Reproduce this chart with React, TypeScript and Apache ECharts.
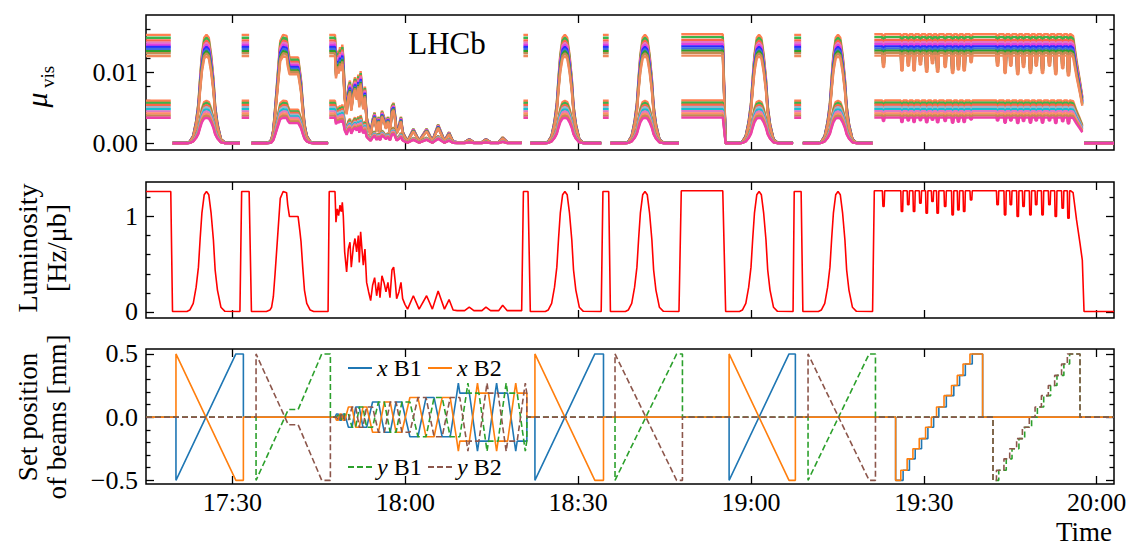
import React, { useEffect, useRef } from "react";
import * as echarts from "echarts";

const FONT = '"Liberation Serif", "Times New Roman", "DejaVu Serif", serif';
const TICK_FS = 26;

// time axis: minutes since midnight
const T_MIN = 1035;
const T_MAX = 1203;
const timeTicks = [1050, 1080, 1110, 1140, 1170, 1200];

// ---------- luminosity ----------
const L_HEAD_ON = 1.265;
const lumiHead: [number, number][] = [
  [1035.0, 1.263], [1039.3, 1.263], [1039.6, 0.005],
  [1042.1, 0.005], [1042.6, 0.02], [1043.2, 0.09], [1043.7, 0.26], [1044.1, 0.47], [1044.4, 0.77], [1044.7, 1.035], [1045.1, 1.228], [1045.5, 1.263], [1045.9, 1.228], [1046.3, 1.035], [1046.7, 0.754], [1047.0, 0.44], [1047.4, 0.23], [1048.0, 0.05], [1048.7, 0.007],
  [1051.3, 0.005], [1051.6, 1.263], [1052.9, 1.263], [1053.3, 0.005],
  [1055.9, 0.005], [1056.5, 0.02], [1056.8, 0.05], [1057.1, 0.16], [1057.4, 0.4], [1057.8, 0.75], [1058.3, 1.19], [1058.8, 1.263], [1059.4, 1.25], [1059.6, 1.12], [1059.9, 1.0], [1061.4, 1.0], [1061.7, 0.85], [1061.9, 0.74], [1062.2, 0.47], [1062.5, 0.23], [1062.9, 0.09], [1063.5, 0.02], [1064.1, 0.005],
  [1066.6, 0.005], [1066.8, 1.263], [1067.8, 1.263],
  [1067.97, 0.94], [1068.2, 1.08], [1068.43, 1.01], [1068.67, 1.12], [1068.9, 1.05], [1069.07, 1.15], [1069.24, 1.01], [1069.48, 0.63], [1069.82, 0.42], [1070.11, 0.66], [1070.4, 0.73], [1070.63, 0.47], [1070.98, 0.68], [1071.27, 0.77], [1071.56, 0.63], [1071.85, 0.8], [1072.02, 0.52], [1072.25, 0.84], [1072.48, 0.66], [1072.71, 0.49], [1073.0, 0.66], [1073.29, 0.31], [1073.64, 0.21], [1073.99, 0.12], [1074.33, 0.28], [1074.68, 0.36], [1075.03, 0.17], [1075.37, 0.31], [1075.61, 0.15], [1075.95, 0.38], [1076.3, 0.31], [1076.65, 0.21], [1076.99, 0.31], [1077.34, 0.15], [1077.69, 0.44], [1077.98, 0.47], [1078.27, 0.31], [1078.5, 0.14], [1078.9, 0.21], [1079.25, 0.31], [1079.54, 0.14], [1079.94, 0.08],
  [1080.4, 0.03], [1081.4, 0.17], [1082.4, 0.03], [1083.7, 0.17], [1084.7, 0.03], [1085.7, 0.22], [1086.8, 0.03], [1087.6, 0.13], [1088.3, 0.02], [1089.0, 0.014], [1090.3, 0.014], [1091.1, 0.05], [1091.9, 0.014], [1093.3, 0.014], [1094.0, 0.05], [1094.8, 0.014], [1096.2, 0.014], [1096.9, 0.07], [1097.7, 0.014], [1100.2, 0.014],
  [1100.5, 1.263], [1101.3, 1.263], [1101.7, 0.005],
  [1104.3, 0.005], [1104.8, 0.02], [1105.4, 0.09], [1105.9, 0.26], [1106.3, 0.47], [1106.6, 0.77], [1106.9, 1.035], [1107.3, 1.228], [1107.7, 1.263], [1108.1, 1.228], [1108.5, 1.035], [1108.9, 0.754], [1109.2, 0.44], [1109.6, 0.23], [1110.2, 0.05], [1110.9, 0.007],
  [1114.0, 0.005], [1114.3, 1.263], [1115.3, 1.263], [1115.6, 0.005],
  [1118.2, 0.005], [1118.7, 0.02], [1119.3, 0.09], [1119.8, 0.26], [1120.2, 0.47], [1120.5, 0.77], [1120.8, 1.035], [1121.2, 1.228], [1121.6, 1.263], [1122.0, 1.228], [1122.4, 1.035], [1122.8, 0.754], [1123.1, 0.44], [1123.5, 0.23], [1124.1, 0.05], [1124.8, 0.007],
  [1127.5, 0.005], [1127.9, 1.27], [1135.1, 1.27], [1135.6, 0.005],
  [1138.0, 0.005], [1138.5, 0.02], [1139.1, 0.09], [1139.6, 0.26], [1140.0, 0.47], [1140.3, 0.77], [1140.6, 1.035], [1141.0, 1.228], [1141.4, 1.263], [1141.8, 1.228], [1142.2, 1.035], [1142.6, 0.754], [1142.9, 0.44], [1143.3, 0.23], [1143.9, 0.05], [1144.6, 0.007],
  [1147.3, 0.005], [1147.5, 1.263], [1148.7, 1.263], [1149.0, 0.005],
  [1151.7, 0.005], [1152.2, 0.02], [1152.8, 0.09], [1153.3, 0.26], [1153.7, 0.47], [1154.0, 0.77], [1154.3, 1.035], [1154.7, 1.228], [1155.1, 1.263], [1155.5, 1.228], [1155.9, 1.035], [1156.3, 0.754], [1156.6, 0.44], [1157.0, 0.23], [1157.6, 0.05], [1158.3, 0.007],
  [1161.1, 0.005], [1161.4, 1.27], [1162.8, 1.27], [1162.9, 1.105], [1163.1, 1.105], [1163.2, 1.27], [1165.6, 1.27],
];
const lumiBetween: [number, number][] = [[1180.0, 1.27], [1182.3, 1.27]];
const lumiTail: [number, number][] = [
  [1195.5, 1.27], [1195.9, 1.25], [1196.5, 0.965], [1197.1, 0.72], [1197.5, 0.544], [1197.8, 0.005], [1203.0, 0.005],
];

// staircase scans (step times, dip depths from the middle panel)
const stairLevels = [-0.5, -0.42, -0.33, -0.25, -0.17, -0.08, 0, 0.08, 0.17, 0.25, 0.33, 0.42, 0.5];
const xStepTimes = [1166.0, 1167.1, 1168.1, 1169.2, 1170.3, 1171.3, 1172.2, 1173.5, 1174.8, 1175.8, 1176.8, 1178.0];
const xDipValues = [1.053, 1.123, 1.053, 1.14, 1.035, 1.158, 1.035, 1.105, 1.018, 1.07, 1.053, 1.175];
const yStepTimes = [1182.6, 1183.9, 1184.9, 1186.1, 1187.1, 1188.3, 1189.3, 1190.4, 1191.6, 1192.7, 1193.9, 1194.9];
const yDipValues = [1.123, 1.018, 1.123, 1.0, 1.105, 1.018, 1.123, 1.018, 1.123, 1.0, 1.088, 0.982];

// ---------- beam set positions ----------
const xB1Head: [number, number][] = [
  [1035, 0], [1040.2, 0], [1040.2, -0.5], [1050.6, 0.5], [1051.9, 0.5], [1051.9, 0],
  [1067.80, 0], [1068.08, 0.025], [1068.36, 0.025], [1068.64, -0.025], [1068.92, -0.025], [1069.20, 0.025], [1069.50, 0.025], [1070.13, -0.08], [1070.76, -0.08], [1071.39, 0.08], [1072.02, 0.08], [1072.65, -0.08], [1073.30, -0.08], [1074.32, 0.12], [1075.34, 0.12], [1076.36, -0.12], [1077.38, -0.12], [1078.40, 0.12], [1079.40, 0.12], [1080.80, -0.155], [1082.20, -0.155], [1083.60, 0.155], [1085.00, 0.155], [1086.40, -0.155], [1087.80, -0.155], [1088.96, 0.19], [1089.21, 0.27], [1089.46, 0.19], [1091.12, 0.19], [1092.28, -0.19], [1092.53, -0.27], [1092.78, -0.19], [1094.44, -0.19], [1095.60, 0.19], [1095.85, 0.27], [1096.10, 0.19], [1097.76, 0.19], [1098.92, -0.19], [1099.17, -0.27], [1099.42, -0.19], [1101.10, -0.19], [1101.10, 0],
  [1102.5, 0], [1102.5, -0.5], [1112.9, 0.5], [1114.4, 0.5], [1114.4, 0],
  [1136.2, 0], [1136.2, -0.5], [1146.6, 0.5], [1147.7, 0.5], [1147.7, 0],
];
const xB2Head: [number, number][] = [
  [1035, 0], [1040.2, 0], [1040.2, 0.5], [1050.6, -0.5], [1051.9, -0.5], [1051.9, 0],
  [1067.80, 0], [1068.08, -0.025], [1068.36, -0.025], [1068.64, 0.025], [1068.92, 0.025], [1069.20, -0.025], [1069.50, -0.025], [1070.13, 0.08], [1070.76, 0.08], [1071.39, -0.08], [1072.02, -0.08], [1072.65, 0.08], [1073.30, 0.08], [1074.32, -0.12], [1075.34, -0.12], [1076.36, 0.12], [1077.38, 0.12], [1078.40, -0.12], [1079.40, -0.12], [1080.80, 0.155], [1082.20, 0.155], [1083.60, -0.155], [1085.00, -0.155], [1086.40, 0.155], [1087.80, 0.155], [1088.96, -0.19], [1089.21, -0.27], [1089.46, -0.19], [1091.12, -0.19], [1092.28, 0.19], [1092.53, 0.27], [1092.78, 0.19], [1094.44, 0.19], [1095.60, -0.19], [1095.85, -0.27], [1096.10, -0.19], [1097.76, -0.19], [1098.92, 0.19], [1099.17, 0.27], [1099.42, 0.19], [1101.10, 0.19], [1101.10, 0],
  [1102.5, 0], [1102.5, 0.5], [1112.9, -0.5], [1114.4, -0.5], [1114.4, 0],
  [1136.2, 0], [1136.2, 0.5], [1146.6, -0.5], [1147.7, -0.5], [1147.7, 0],
];
const yB1Head: [number, number][] = [
  [1035, 0], [1054.1, 0], [1054.1, -0.5], [1059.7, 0.06], [1061.4, 0.06], [1065.5, 0.5], [1067.0, 0.5], [1067.0, 0],
  [1068.08, 0], [1068.36, 0.025], [1068.64, 0.025], [1068.92, -0.025], [1069.20, -0.025], [1069.48, 0.025], [1070.13, 0.025], [1070.76, -0.08], [1071.39, -0.08], [1072.02, 0.08], [1072.65, 0.08], [1073.28, -0.08], [1074.32, -0.08], [1075.34, 0.12], [1076.36, 0.12], [1077.38, -0.12], [1078.40, -0.12], [1079.42, 0.12], [1080.80, 0.12], [1082.20, -0.155], [1083.60, -0.155], [1085.00, 0.155], [1086.40, 0.155], [1087.80, -0.155], [1089.46, -0.155], [1090.62, 0.19], [1090.87, 0.27], [1091.12, 0.19], [1092.78, 0.19], [1093.94, -0.19], [1094.19, -0.27], [1094.44, -0.19], [1096.10, -0.19], [1097.26, 0.19], [1097.51, 0.27], [1097.76, 0.19], [1099.42, 0.19], [1100.58, -0.19], [1100.83, -0.27], [1101.08, -0.19], [1101.10, 0],
  [1116.4, 0], [1116.4, -0.5], [1127.1, 0.5], [1128.1, 0.5], [1128.1, 0],
  [1149.9, 0], [1149.9, -0.5], [1160.5, 0.5], [1161.6, 0.5], [1161.6, 0],
];
const yB2Head: [number, number][] = [
  [1035, 0], [1054.1, 0], [1054.1, 0.5], [1059.7, -0.06], [1061.4, -0.06], [1065.5, -0.5], [1067.0, -0.5], [1067.0, 0],
  [1068.08, 0], [1068.36, -0.025], [1068.64, -0.025], [1068.92, 0.025], [1069.20, 0.025], [1069.48, -0.025], [1070.13, -0.025], [1070.76, 0.08], [1071.39, 0.08], [1072.02, -0.08], [1072.65, -0.08], [1073.28, 0.08], [1074.32, 0.08], [1075.34, -0.12], [1076.36, -0.12], [1077.38, 0.12], [1078.40, 0.12], [1079.42, -0.12], [1080.80, -0.12], [1082.20, 0.155], [1083.60, 0.155], [1085.00, -0.155], [1086.40, -0.155], [1087.80, 0.155], [1089.46, 0.155], [1090.62, -0.19], [1090.87, -0.27], [1091.12, -0.19], [1092.78, -0.19], [1093.94, 0.19], [1094.19, 0.27], [1094.44, 0.19], [1096.10, 0.19], [1097.26, -0.19], [1097.51, -0.27], [1097.76, -0.19], [1099.42, -0.19], [1100.58, 0.19], [1100.83, 0.27], [1101.08, 0.19], [1101.10, 0],
  [1116.4, 0], [1116.4, 0.5], [1127.1, -0.5], [1128.1, -0.5], [1128.1, 0],
  [1149.9, 0], [1149.9, 0.5], [1160.5, -0.5], [1161.6, -0.5], [1161.6, 0],
];

// ---------- mu_vis bands (per-bunch levels at head-on) ----------
const muHighLevels = [0.0153, 0.0149, 0.0145, 0.0142, 0.0139, 0.0136, 0.0133, 0.0130, 0.0127, 0.0123];
const muHighColors = ["#ff7f50", "#3cb44b", "#ff6347", "#e377c2", "#e040e0", "#2b2bff", "#4169e1", "#2ca02c", "#c48a52", "#f08a5d"];
const muLowLevels = [0.0060, 0.0057, 0.0054, 0.0051, 0.0048, 0.0045, 0.0042, 0.0039, 0.0036];
const muLowColors = ["#ff7f50", "#3cb44b", "#ff6347", "#9fb4c8", "#17becf", "#e377c2", "#ff8c69", "#c48a52", "#ee3fa8"];

function dips(times: number[], vals: number[]): [number, number][] {
  const out: [number, number][] = [];
  times.forEach((s, i) => {
    out.push([s, 1.27], [s + 0.08, vals[i]], [s + 0.32, vals[i]], [s + 0.4, 1.27]);
  });
  return out;
}

function stair(dropT: number, steps: number[], lag: number, endT: number): [number, number][] {
  const pts: [number, number][] = [[dropT, 0], [dropT, stairLevels[0]]];
  steps.forEach((s, i) => {
    pts.push([s + lag, stairLevels[i]], [s + lag, stairLevels[i + 1]]);
  });
  pts.push([endT, stairLevels[stairLevels.length - 1]], [endT, 0], [T_MAX, 0]);
  return pts;
}

const lumi: [number, number][] = [
  ...lumiHead,
  ...dips(xStepTimes, xDipValues),
  ...lumiBetween,
  ...dips(yStepTimes, yDipValues),
  ...lumiTail,
];

const xB1 = [...xB1Head, ...stair(1165.1, xStepTimes, 0.4, 1180.2)];
const xB2 = [...xB2Head, ...stair(1165.1, xStepTimes, 0, 1180.2)];
const yB1 = [...yB1Head, ...stair(1182.0, yStepTimes, 0.4, 1197.1)];
const yB2 = [...yB2Head, ...stair(1182.0, yStepTimes, 0, 1197.1)];

function muData(level: number) {
  const out: any[] = [];
  for (let i = 0; i < lumi.length; i++) {
    const [t, L] = lumi[i];
    if (i > 0) {
      const [tp, Lp] = lumi[i - 1];
      if (t - tp < 0.45 && Math.abs(L - Lp) > 0.5) out.push([(t + tp) / 2, "-"]);
    }
    out.push([t, (level * L) / L_HEAD_ON]);
  }
  return out;
}

const fmtTime = (v: number) => {
  const h = Math.floor(v / 60);
  const m = Math.round(v - h * 60);
  return `${h}:${String(m).padStart(2, "0")}`;
};

const tickLine = { color: "#000", width: 1.3 };
const MAJ = 8;
const MIN = 4.5;
const noLine = { show: false, onZero: false };

function yAxes(grid: number, min: number, max: number, majors: number[], minors: number[], fmt: (v: number) => string) {
  const base = { type: "value", gridIndex: grid, min, max, splitLine: { show: false }, axisLine: noLine };
  return [
    {
      ...base, position: "left",
      axisTick: { show: true, inside: true, length: MAJ, customValues: majors, lineStyle: tickLine },
      axisLabel: { show: true, customValues: majors, formatter: fmt, fontFamily: FONT, fontSize: TICK_FS, color: "#000", margin: 8 },
    },
    { ...base, position: "left", axisTick: { show: true, inside: true, length: MIN, customValues: minors, lineStyle: tickLine }, axisLabel: { show: false } },
    { ...base, position: "right", axisTick: { show: true, inside: true, length: MAJ, customValues: majors, lineStyle: tickLine }, axisLabel: { show: false } },
    { ...base, position: "right", axisTick: { show: true, inside: true, length: MIN, customValues: minors, lineStyle: tickLine }, axisLabel: { show: false } },
  ];
}

function xAxes(grid: number, showLabels: boolean) {
  const base = { type: "value", gridIndex: grid, min: T_MIN, max: T_MAX, splitLine: { show: false }, axisLine: noLine };
  return [
    {
      ...base, position: "bottom",
      axisTick: { show: true, inside: true, length: MAJ, customValues: timeTicks, lineStyle: tickLine },
      axisLabel: { show: showLabels, customValues: timeTicks, formatter: fmtTime, fontFamily: FONT, fontSize: TICK_FS, color: "#000", margin: 5 },
    },
    { ...base, position: "top", axisTick: { show: true, inside: true, length: MAJ, customValues: timeTicks, lineStyle: tickLine }, axisLabel: { show: false } },
  ];
}

export default function App() {
  const ref = useRef<HTMLDivElement>(null);
  useEffect(() => {
    if (!ref.current) return;
    const chart = echarts.init(ref.current, undefined, { renderer: "svg" });
    const gridStyle = { show: true, borderColor: "#000", borderWidth: 1.5, backgroundColor: "transparent" };
    const muSeries: any[] = [];
    muHighLevels.forEach((lv, i) => {
      muSeries.push({ type: "line", xAxisIndex: 0, yAxisIndex: 0, data: muData(lv), symbol: "none", silent: true, lineStyle: { width: 2.4, color: muHighColors[i] }, itemStyle: { color: muHighColors[i] } });
    });
    muLowLevels.forEach((lv, i) => {
      muSeries.push({ type: "line", xAxisIndex: 0, yAxisIndex: 0, data: muData(lv), symbol: "none", silent: true, lineStyle: { width: 2.4, color: muLowColors[i] }, itemStyle: { color: muLowColors[i] } });
    });
    const beam = (name: string, data: any, color: string, dashed: boolean) => ({
      name, type: "line", xAxisIndex: 4, yAxisIndex: 8, data, symbol: "none", silent: true,
      lineStyle: { width: 1.6, color, type: dashed ? [6, 3] : "solid" }, itemStyle: { color },
    });
    const legendText = {
      fontFamily: FONT, fontSize: 24, color: "#000",
      rich: { i: { fontFamily: FONT, fontSize: 24, fontStyle: "italic", color: "#000" } },
    };
    const legendFmt = (n: string) => `{i|${n.charAt(0)}}${n.slice(1)}`;
    const legendBase = {
      itemWidth: 24, itemHeight: 14, itemGap: 10, formatter: legendFmt, textStyle: legendText, padding: 0,
      backgroundColor: "transparent", itemStyle: { opacity: 0 }, selectedMode: false,
    };
    const option: any = {
      animation: false,
      backgroundColor: "#fff",
      grid: [
        { left: 146, top: 15, width: 968, height: 135, ...gridStyle },
        { left: 146, top: 182, width: 968, height: 136, ...gridStyle },
        { left: 146, top: 349, width: 968, height: 135, ...gridStyle },
      ],
      xAxis: [...xAxes(0, false), ...xAxes(1, false), ...xAxes(2, true)],
      yAxis: [
        ...yAxes(0, -0.00094, 0.01807, [0, 0.01], [0.002, 0.004, 0.006, 0.008, 0.012, 0.014, 0.016], (v) => v.toFixed(2)),
        ...yAxes(1, -0.063, 1.362, [0, 1], [0.2, 0.4, 0.6, 0.8, 1.2], (v) => String(Math.round(v))),
        ...yAxes(2, -0.529, 0.539, [-0.5, 0, 0.5], [-0.4, -0.3, -0.2, -0.1, 0.1, 0.2, 0.3, 0.4], (v) => (v < 0 ? "\u2212" + Math.abs(v).toFixed(1) : v.toFixed(1))),
      ],
      legend: [
        { ...legendBase, data: ["x B1"], left: 347, top: 356 },
        { ...legendBase, data: ["x B2"], left: 427, top: 356 },
        { ...legendBase, data: ["y B1"], left: 347, top: 455 },
        { ...legendBase, data: ["y B2"], left: 427, top: 455 },
      ],
      series: [
        ...muSeries,
        { type: "line", xAxisIndex: 2, yAxisIndex: 4, data: lumi, symbol: "none", silent: true, lineStyle: { width: 1.6, color: "#ff0000" } },
        beam("x B1", xB1, "#1f77b4", false),
        beam("x B2", xB2, "#ff7f0e", false),
        beam("y B1", yB1, "#2ca02c", true),
        beam("y B2", yB2, "#8c564b", true),
      ],
      graphic: [
        { type: "text", x: 447, y: 43, style: { text: "LHCb", fontFamily: FONT, fontSize: 31, fill: "#000", align: "center", verticalAlign: "middle", textAlign: "center", textVerticalAlign: "middle" } },
        { type: "text", x: 36, y: 100, rotation: Math.PI / 2, style: { text: "\u03bc", fontFamily: FONT, fontSize: 30, fontStyle: "italic", fill: "#000", align: "center", verticalAlign: "middle", textAlign: "center", textVerticalAlign: "middle" } },
        { type: "text", x: 47, y: 77, rotation: Math.PI / 2, style: { text: "vis", fontFamily: FONT, fontSize: 19, fill: "#000", align: "center", verticalAlign: "middle", textAlign: "center", textVerticalAlign: "middle" } },
        { type: "text", x: 42, y: 248, rotation: Math.PI / 2, style: { text: "Luminosity\n[Hz/\u03bcb]", fontFamily: FONT, fontSize: 28, lineHeight: 29, fill: "#000", align: "center", verticalAlign: "middle", textAlign: "center", textVerticalAlign: "middle" } },
        { type: "text", x: 42, y: 417, rotation: Math.PI / 2, style: { text: "Set position\nof beams [mm]", fontFamily: FONT, fontSize: 27, lineHeight: 29, fill: "#000", align: "center", verticalAlign: "middle", textAlign: "center", textVerticalAlign: "middle" } },
        { type: "text", x: 1112, y: 532, style: { text: "Time", fontFamily: FONT, fontSize: 27, fill: "#000", align: "right", verticalAlign: "middle", textAlign: "right", textVerticalAlign: "middle" } },
      ],
    };
    chart.setOption(option);
    return () => chart.dispose();
  }, []);
  return <div ref={ref} style={{ position: "fixed", left: 0, top: 0, width: 1131, height: 547, background: "#fff" }} />;
}
